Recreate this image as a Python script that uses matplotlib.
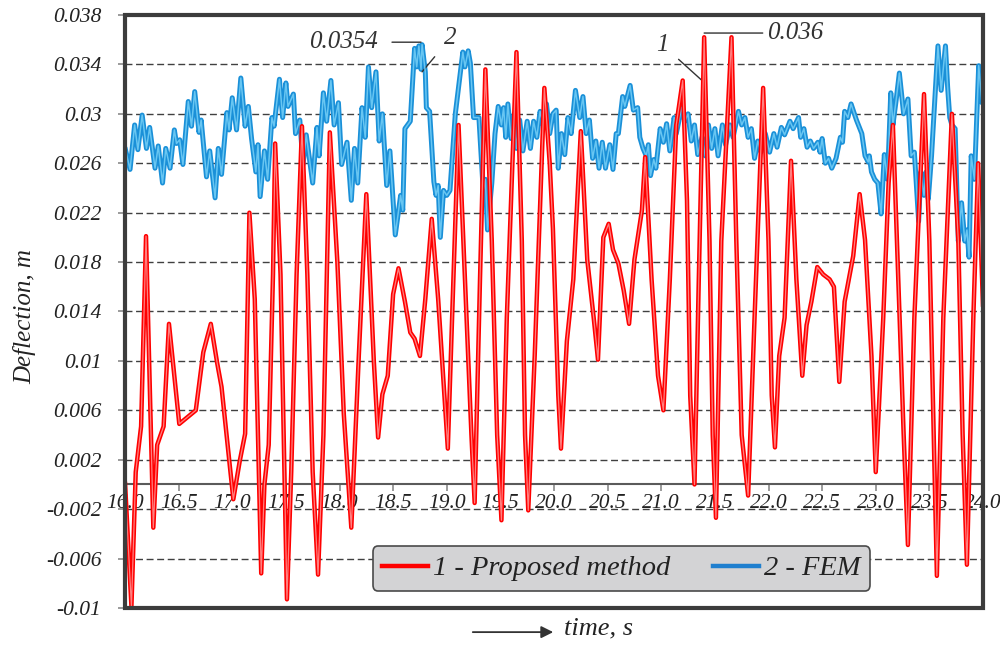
import numpy as np
import matplotlib
matplotlib.use("Agg")
import matplotlib.pyplot as plt
from matplotlib.patches import Rectangle
from matplotlib.lines import Line2D

# ---------------- data ----------------
red_t = [16.00, 16.06, 16.10, 16.15, 16.196, 16.264, 16.30, 16.36, 16.41, 16.506,
         16.66, 16.73, 16.80, 16.86, 16.90, 17.01, 17.07, 17.12, 17.16, 17.21,
         17.27, 17.30, 17.34, 17.38, 17.40, 17.45, 17.48, 17.51, 17.55, 17.60,
         17.65, 17.70, 17.75, 17.80, 17.85, 17.91, 17.98, 18.04, 18.11, 18.18,
         18.25, 18.32, 18.36, 18.40, 18.45, 18.50, 18.55, 18.61, 18.66, 18.70,
         18.75, 18.80, 18.86, 18.92, 19.01, 19.05, 19.11, 19.17, 19.23, 19.26,
         19.31, 19.36, 19.42, 19.47, 19.51, 19.56, 19.65, 19.70, 19.73, 19.76,
         19.82, 19.91, 19.96, 19.99, 20.04, 20.065, 20.12, 20.18, 20.25, 20.31,
         20.37, 20.41, 20.46, 20.51, 20.55, 20.60, 20.65, 20.70, 20.75, 20.82,
         20.85, 20.91, 20.97, 21.02, 21.08, 21.14, 21.20, 21.24, 21.27, 21.31,
         21.35, 21.40, 21.45, 21.48, 21.51, 21.56, 21.655, 21.70, 21.75, 21.81,
         21.87, 21.95, 22.00, 22.03, 22.06, 22.10, 22.15, 22.21, 22.26, 22.315,
         22.355, 22.40, 22.455, 22.51, 22.57, 22.61, 22.66, 22.71, 22.79, 22.85,
         22.90, 22.96, 23.00, 23.07, 23.12, 23.16, 23.21, 23.26, 23.30, 23.36,
         23.45, 23.50, 23.54, 23.57, 23.63, 23.71, 23.77, 23.81, 23.85, 23.91,
         23.955, 24.00]
red_v = [0.0002, -0.0099, 0.0010, 0.0047, 0.0201, -0.0035, 0.0032, 0.0047, 0.0130, 0.0049,
         0.0060, 0.0107, 0.0130, 0.0098, 0.0079, -0.0012, 0.0019, 0.0041, 0.0220, 0.0150,
         -0.0072, 0.0000, 0.0032, 0.0170, 0.0276, 0.0170, 0.0040, -0.0093, 0.0010, 0.0170,
         0.0290, 0.0170, 0.0010, -0.0073, 0.0040, 0.0285, 0.0180, 0.0057, -0.0035, 0.0104,
         0.0235, 0.0100, 0.0038, 0.0073, 0.0088, 0.0154, 0.0175, 0.0148, 0.0123, 0.0118,
         0.0104, 0.0150, 0.0215, 0.0150, 0.0029, 0.0135, 0.0291, 0.0166, 0.0040, -0.0015,
         0.0166, 0.0336, 0.0197, 0.0040, -0.0029, 0.0135, 0.0350, 0.0197, 0.0040, -0.0021,
         0.0104, 0.0321, 0.0260, 0.0207, 0.0072, 0.0029, 0.0116, 0.0166, 0.0286, 0.0182,
         0.0135, 0.0101, 0.0200, 0.0211, 0.0190, 0.0179, 0.0157, 0.0130, 0.0182, 0.0222,
         0.0265, 0.0166, 0.0088, 0.0060, 0.0166, 0.0291, 0.0327, 0.0230, 0.0072, 0.0000,
         0.0166, 0.0362, 0.0197, 0.0040, -0.0027, 0.0197, 0.0362, 0.0197, 0.0040, -0.0009,
         0.0135, 0.0321, 0.0197, 0.0072, 0.0030, 0.0104, 0.0135, 0.0262, 0.0166, 0.0088,
         0.0129, 0.0148, 0.0176, 0.0170, 0.0166, 0.0160, 0.0083, 0.0148, 0.0185, 0.0235,
         0.0198, 0.0104, 0.0010, 0.0135, 0.0244, 0.0291, 0.0166, 0.0041, -0.0049, 0.0135,
         0.0316, 0.0197, 0.0041, -0.0074, 0.0135, 0.0300, 0.0197, 0.0041, -0.0065, 0.0135,
         0.0260, 0.0144]

blue_t = [16.00, 16.047, 16.09, 16.12, 16.16, 16.20, 16.23, 16.28, 16.31, 16.35,
          16.38, 16.42, 16.46, 16.48, 16.51, 16.54, 16.59, 16.62, 16.65, 16.69,
          16.71, 16.76, 16.79, 16.84, 16.87, 16.90, 16.95, 16.97, 17.00, 17.04,
          17.08, 17.12, 17.15, 17.18, 17.22, 17.24, 17.26, 17.30, 17.33, 17.37,
          17.39, 17.44, 17.47, 17.50, 17.52, 17.57, 17.59, 17.63, 17.66, 17.69,
          17.75, 17.79, 17.81, 17.85, 17.88, 17.92, 17.95, 17.99, 18.02, 18.07,
          18.11, 18.14, 18.17, 18.21, 18.24, 18.27, 18.30, 18.34, 18.37, 18.40,
          18.44, 18.47, 18.52, 18.57, 18.59, 18.61, 18.66, 18.70, 18.72, 18.74,
          18.76, 18.77, 18.80, 18.81, 18.84, 18.88, 18.90, 18.92, 18.94, 18.97,
          19.00, 19.03, 19.08, 19.15, 19.17, 19.20, 19.22, 19.25, 19.30, 19.34,
          19.36, 19.38, 19.42, 19.45, 19.48, 19.51, 19.53, 19.55, 19.57, 19.60,
          19.63, 19.65, 19.68, 19.71, 19.75, 19.78, 19.81, 19.84, 19.87, 19.90,
          19.93, 19.96, 19.99, 20.02, 20.04, 20.07, 20.10, 20.13, 20.16, 20.20,
          20.24, 20.27, 20.30, 20.33, 20.36, 20.39, 20.42, 20.45, 20.48, 20.52,
          20.55, 20.58, 20.60, 20.64, 20.66, 20.71, 20.74, 20.78, 20.80, 20.83,
          20.86, 20.88, 20.90, 20.93, 20.95, 20.99, 21.02, 21.05, 21.08, 21.12,
          21.14, 21.19, 21.22, 21.25, 21.28, 21.31, 21.34, 21.38, 21.41, 21.44,
          21.47, 21.50, 21.53, 21.57, 21.60, 21.64, 21.67, 21.72, 21.75, 21.78,
          21.81, 21.84, 21.87, 21.90, 21.93, 21.97, 22.01, 22.05, 22.08, 22.12,
          22.15, 22.20, 22.23, 22.28, 22.30, 22.33, 22.36, 22.39, 22.42, 22.46,
          22.48, 22.50, 22.53, 22.56, 22.59, 22.63, 22.67, 22.69, 22.71, 22.74,
          22.77, 22.82, 22.87, 22.90, 22.93, 22.94, 22.96, 22.99, 23.02, 23.05,
          23.08, 23.11, 23.14, 23.16, 23.19, 23.22, 23.26, 23.30, 23.33, 23.36,
          23.40, 23.42, 23.45, 23.47, 23.49, 23.52, 23.58, 23.61, 23.65, 23.67,
          23.69, 23.71, 23.74, 23.77, 23.80, 23.83, 23.85, 23.87, 23.89, 23.92,
          23.96, 23.99, 24.00]
blue_v = [0.02725, 0.0255, 0.0291, 0.0271, 0.0299, 0.0272, 0.0289, 0.0256, 0.0274, 0.0244,
          0.0272, 0.0256, 0.0287, 0.0276, 0.0279, 0.0259, 0.0310, 0.0290, 0.0318, 0.0285,
          0.0295, 0.0249, 0.0270, 0.0232, 0.0272, 0.0251, 0.0301, 0.0287, 0.0313, 0.0287,
          0.0329, 0.0290, 0.0306, 0.0280, 0.0253, 0.0275, 0.0233, 0.0270, 0.0247, 0.0297,
          0.0290, 0.0328, 0.0297, 0.0325, 0.0306, 0.0316, 0.0284, 0.0295, 0.0259, 0.0283,
          0.0244, 0.0289, 0.0266, 0.0317, 0.0294, 0.0327, 0.0291, 0.0309, 0.0259, 0.0277,
          0.0230, 0.0272, 0.0244, 0.0305, 0.0281, 0.0338, 0.0305, 0.0334, 0.0278, 0.0300,
          0.0242, 0.0270, 0.0202, 0.0234, 0.0222, 0.0288, 0.0294, 0.0353, 0.0338, 0.0355,
          0.0336, 0.0356, 0.0334, 0.0305, 0.0302, 0.0245, 0.0234, 0.0242, 0.0200, 0.0238,
          0.0234, 0.0238, 0.0300, 0.0350, 0.0338, 0.0351, 0.0341, 0.0297, 0.0297, 0.0238,
          0.0247, 0.0206, 0.0244, 0.0284, 0.0306, 0.0291, 0.0305, 0.0281, 0.0308, 0.0280,
          0.0300, 0.0272, 0.0295, 0.0270, 0.0294, 0.0272, 0.0294, 0.0281, 0.0302, 0.0291,
          0.0308, 0.0284, 0.0300, 0.0303, 0.0256, 0.0284, 0.0267, 0.0297, 0.0284, 0.0319,
          0.0297, 0.0314, 0.0284, 0.0295, 0.0264, 0.0278, 0.0256, 0.0277, 0.0256, 0.0275,
          0.0255, 0.0284, 0.0284, 0.0314, 0.0306, 0.0323, 0.0303, 0.0305, 0.0281, 0.0272,
          0.0266, 0.0275, 0.0250, 0.0263, 0.0256, 0.0288, 0.0277, 0.0292, 0.0270, 0.0297,
          0.0284, 0.0305, 0.0294, 0.0300, 0.0278, 0.0291, 0.0267, 0.0281, 0.0266, 0.0291,
          0.0272, 0.0288, 0.0266, 0.0291, 0.0275, 0.0291, 0.0281, 0.0302, 0.0291, 0.0297,
          0.0281, 0.0288, 0.0264, 0.0278, 0.0269, 0.0284, 0.0269, 0.0284, 0.0273, 0.0289,
          0.0283, 0.0294, 0.0288, 0.0297, 0.0281, 0.0288, 0.0273, 0.0278, 0.0272, 0.0277,
          0.0269, 0.0280, 0.0260, 0.0264, 0.0256, 0.0264, 0.0281, 0.0277, 0.0302, 0.0297,
          0.0308, 0.0295, 0.0284, 0.0266, 0.0261, 0.0266, 0.0253, 0.0247, 0.0244, 0.0219,
          0.0267, 0.0247, 0.0317, 0.0291, 0.0311, 0.0333, 0.0300, 0.0312, 0.0266, 0.0269,
          0.0213, 0.0253, 0.0234, 0.0253, 0.0231, 0.0266, 0.0355, 0.0319, 0.0355, 0.0322,
          0.0297, 0.0291, 0.0288, 0.0197, 0.0228, 0.0197, 0.0206, 0.0184, 0.0266, 0.0247,
          0.0339, 0.0309, 0.0325]

x_ticks = [16.0, 16.5, 17.0, 17.5, 18.0, 18.5, 19.0, 19.5, 20.0, 20.5, 21.0, 21.5,
           22.0, 22.5, 23.0, 23.5, 24.0]
x_labels = ["16.0", "16.5", "17.0", "17.5", "18.0", "18.5", "19.0", "19.5", "20.0",
            "20.5", "21.0", "21.5", "22.0", "22.5", "23.0", "23.5", "24.0"]
y_ticks = [-0.01, -0.006, -0.002, 0.002, 0.006, 0.01, 0.014, 0.018, 0.022, 0.026,
           0.03, 0.034, 0.038]
y_labels = ["-0.01", "-0.006", "-0.002", "0.002", "0.006", "0.01", "0.014", "0.018",
            "0.022", "0.026", "0.03", "0.034", "0.038"]

series_labels = ["1 - Proposed method", "2 - FEM"]

# ---------------- styling ----------------
SERIF = ["Liberation Serif", "DejaVu Serif"]
RED = "#ff0000"
RED_IN = "#ff8080"
BLUE = "#1a90d8"
BLUE_IN = "#68c6f2"
FRAME = "#3c3c3c"
TXT = "#222222"

fig = plt.figure(figsize=(10, 6.47), dpi=100)
ax = fig.add_axes([0.125, 0.0603, 0.858, 0.9165])
ax.set_xlim(16.0, 24.0)
ax.set_ylim(-0.01, 0.038)

# grid lines (dashed) at interior y ticks
for yv in y_ticks[1:-1]:
    ax.axhline(yv, color="#404040", lw=1.0, ls=(0, (5, 2.6)), zorder=1)

# data lines
ax.plot(blue_t, blue_v, color=BLUE, lw=3.6, solid_joinstyle="round",
        solid_capstyle="round", zorder=3)
ax.plot(blue_t, blue_v, color=BLUE_IN, lw=1.1, solid_joinstyle="round", zorder=3.1)
ax.plot(red_t, red_v, color=RED, lw=3.2, solid_joinstyle="round",
        solid_capstyle="round", zorder=4)
ax.plot(red_t, red_v, color=RED_IN, lw=0.9, solid_joinstyle="round", zorder=4.1)

# spines: x axis at y = 0, outer frame drawn separately
for s in ["left", "top", "right"]:
    ax.spines[s].set_visible(False)
ax.spines["bottom"].set_position(("data", 0))
ax.spines["bottom"].set_color("#5a5a5a")
ax.spines["bottom"].set_linewidth(1.5)
ax.spines["bottom"].set_zorder(2)
ax.add_patch(Rectangle((0, 0), 1, 1, transform=ax.transAxes, fill=False,
                       lw=3.0, ec=FRAME, clip_on=False, zorder=6))

ax.set_xticks(x_ticks)
ax.set_xticklabels(x_labels, fontfamily=SERIF, fontstyle="italic", fontsize=15.5,
                   color=TXT)
ax.set_yticks(y_ticks)
ax.set_yticklabels(y_labels, fontfamily=SERIF, fontstyle="italic", fontsize=15.5,
                   color=TXT)
ax.tick_params(axis="x", direction="out", length=5, width=1.2, color="#8a8a8a", pad=2)
ax.tick_params(axis="y", direction="out", length=5, width=1.2, color="#8a8a8a", pad=12)

# legend
handles = [Line2D([], [], color=RED, lw=3.2), Line2D([], [], color="#1f7fcf", lw=3.2)]
leg = fig.legend(handles, series_labels, loc="center", bbox_to_anchor=(0.6215, 0.1213),
                 ncol=2, frameon=True, fancybox=True, facecolor="#d3d3d5",
                 edgecolor="#4a4a4a", framealpha=1.0, handlelength=1.6,
                 handletextpad=0.2, columnspacing=1.5, borderpad=0.33,
                 prop={"family": SERIF, "style": "italic", "size": 20.5})
leg.get_frame().set_linewidth(1.2)
for t in leg.get_texts():
    t.set_color(TXT)

# annotations
ann_kw = dict(fontfamily=SERIF, fontstyle="italic", color="#333333")
bi = int(np.argmax(blue_v))
ax.annotate("0.0354", xy=(blue_t[bi] - 0.01, 0.0358), xytext=(18.36, 0.0358),
            ha="right", va="center", fontsize=18,
            arrowprops=dict(arrowstyle="-", color="#333333", lw=1.0,
                            shrinkA=8, shrinkB=0), **ann_kw)
ax.annotate("2", xy=(blue_t[bi], 0.0334), xytext=(19.03, 0.0361),
            ha="center", va="center", fontsize=18,
            arrowprops=dict(arrowstyle="-", color="#333333", lw=1.0,
                            shrinkA=7, shrinkB=0), **ann_kw)
ri = int(np.argmax(red_v))
ax.annotate("1", xy=(21.38, 0.0327), xytext=(21.01, 0.0356),
            ha="center", va="center", fontsize=18,
            arrowprops=dict(arrowstyle="-", color="#333333", lw=1.0,
                            shrinkA=7, shrinkB=0), **ann_kw)
ax.annotate("0.036", xy=(red_t[ri], 0.03654), xytext=(21.985, 0.03654),
            ha="left", va="center", fontsize=18,
            arrowprops=dict(arrowstyle="-", color="#333333", lw=1.0,
                            shrinkA=1, shrinkB=0), **ann_kw)

# axis labels
fig.text(0.025, 0.51, "Deflection, m", rotation=90, ha="center", va="center",
         fontsize=18, fontfamily=SERIF, fontstyle="italic", color=TXT)
fig.text(0.564, 0.029, "time, s", ha="left", va="center", fontsize=19,
         fontfamily=SERIF, fontstyle="italic", color=TXT)
fig.add_artist(matplotlib.patches.FancyArrowPatch(
    (0.47, 0.023), (0.556, 0.023), transform=fig.transFigure,
    arrowstyle="-|>", mutation_scale=18, color="#333333", lw=1.3))

fig.savefig("out.png", dpi=100)
